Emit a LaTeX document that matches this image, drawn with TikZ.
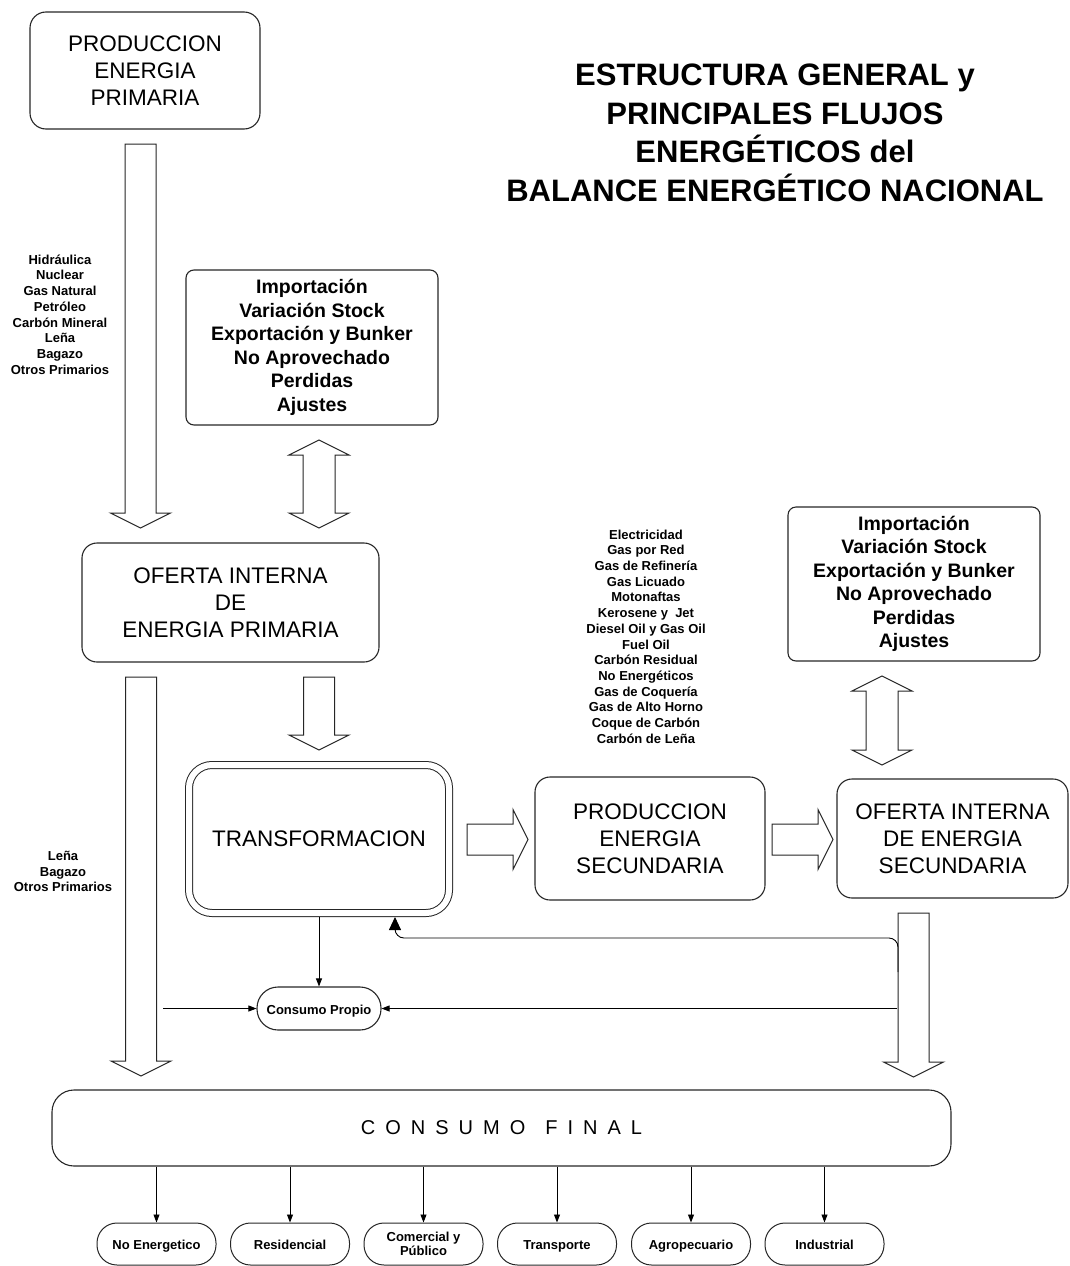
\documentclass[tikz,border=0pt]{standalone}
\usepackage{fontspec}
\setmainfont{Liberation Sans}
\newfontfamily\spacedfont[LetterSpace=50]{Liberation Sans}
\usetikzlibrary{arrows.meta,calc}
\begin{document}
\begin{tikzpicture}[x=1pt,y=-1pt,
  box/.style={draw=black!85, line width=1.1pt, align=center, inner sep=0pt},
  bigtxt/.style={font=\fontsize{22.5}{27}\selectfont},
  imptxt/.style={font=\bfseries\fontsize{19.5}{23.5}\selectfont},
  listtxt/.style={align=center, inner sep=0pt, font=\bfseries\fontsize{13}{15.7}\selectfont},
  pillbase/.style={draw=black!85, line width=1pt, rounded corners=20pt, minimum width=119pt, minimum height=42pt, inner sep=0pt, align=center, font=\bfseries\fontsize{13}{14.5}\selectfont},
  pill/.style={pillbase, text height=11pt, text depth=0pt},
  blk/.style={draw=black!85, line width=1pt, fill=white},
  fl/.style={draw=black, line width=0.9pt, -{Triangle[length=8pt,width=6pt]}},
]
\useasboundingbox (0,0) rectangle (1070,1266);
\newcommand{\blkdown}[3]{\draw[blk] (#1-15.5,#2) -- (#1+15.5,#2) -- (#1+15.5,#3-15) -- (#1+30,#3-15) -- (#1,#3) -- (#1-30,#3-15) -- (#1-15.5,#3-15) -- cycle;}
\newcommand{\blkboth}[3]{\draw[blk] (#1,#2) -- (#1+30,#2+15) -- (#1+16,#2+15) -- (#1+16,#3-15) -- (#1+30,#3-15) -- (#1,#3) -- (#1-30,#3-15) -- (#1-16,#3-15) -- (#1-16,#2+15) -- (#1-30,#2+15) -- cycle;}
\newcommand{\blkright}[3]{\draw[blk] (#2,#1-15.5) -- (#3-15,#1-15.5) -- (#3-15,#1-30) -- (#3,#1) -- (#3-15,#1+30) -- (#3-15,#1+15.5) -- (#2,#1+15.5) -- cycle;}

% title
\node[align=center, inner sep=0pt, font=\bfseries\fontsize{31}{38.5}\selectfont] (title) at (775,133)
  {ESTRUCTURA GENERAL y\\PRINCIPALES FLUJOS\\ENERGÉTICOS del\\BALANCE ENERGÉTICO NACIONAL};

% main boxes
\node[box, bigtxt, rounded corners=16pt, minimum width=230pt, minimum height=117pt] (pep) at (145,70.5)
  {PRODUCCION\\ENERGIA\\PRIMARIA};
\node[box, imptxt, rounded corners=8pt, minimum width=252pt, minimum height=155pt] (imp1) at (312,347.5)
  {Importación\\Variación Stock\\Exportación y Bunker\\No Aprovechado\\Perdidas\\Ajustes};
\node[box, imptxt, rounded corners=8pt, minimum width=252pt, minimum height=154pt] (imp2) at (914,584)
  {Importación\\Variación Stock\\Exportación y Bunker\\No Aprovechado\\Perdidas\\Ajustes};
\node[box, bigtxt, rounded corners=15pt, minimum width=297pt, minimum height=119pt] (oip) at (230.5,602.5)
  {OFERTA INTERNA\\DE\\ENERGIA PRIMARIA};
\node[draw=black!85, line width=1pt, double, double distance=6pt, rounded corners=23pt,
  minimum width=260pt, minimum height=148pt, outer sep=4pt, inner sep=0pt, bigtxt] (trans) at (319,839)
  {TRANSFORMACION};
\node[box, bigtxt, rounded corners=15pt, minimum width=230pt, minimum height=123pt] (pes) at (650,838.5)
  {PRODUCCION\\ENERGIA\\SECUNDARIA};
\node[box, bigtxt, rounded corners=15pt, minimum width=231pt, minimum height=119pt] (ois) at (952.5,838.5)
  {OFERTA INTERNA\\DE ENERGIA\\SECUNDARIA};
\node[draw=black!85, line width=1.1pt, rounded corners=21pt, minimum width=124pt, minimum height=43pt,
  inner sep=0pt, text height=11pt, text depth=0pt, font=\bfseries\fontsize{13}{15}\selectfont] (cp) at (319,1008.5) {Consumo Propio};
\node[box, rounded corners=22pt, minimum width=899pt, minimum height=76pt,
  font=\spacedfont\fontsize{20}{24}\selectfont] (cf) at (501.5,1128) {CONSUMO\hspace{20pt}FINAL};

% lists
\node[listtxt] (l1) at (60,314.5) {Hidráulica\\Nuclear\\Gas Natural\\Petróleo\\Carbón Mineral\\Leña\\Bagazo\\Otros Primarios};
\node[listtxt] (l2) at (63,871.5) {Leña\\Bagazo\\Otros Primarios};
\node[listtxt] (l3) at (646,636.5) {Electricidad\\Gas por Red\\Gas de Refinería\\Gas Licuado\\Motonaftas\\Kerosene y\ \ Jet\\Diesel Oil y Gas Oil\\Fuel Oil\\Carbón Residual\\No Energéticos\\Gas de Coquería\\Gas de Alto Horno\\Coque de Carbón\\Carbón de Leña};

% block arrows
\blkdown{140.5}{144}{528}
\blkboth{319}{440}{528}
\blkdown{319}{677}{750}
\blkdown{141}{677}{1076}
\blkboth{882}{676}{765}
\blkright{839.5}{467}{528}
\blkright{839.5}{772}{833}
\blkdown{913.5}{913}{1077}

% consumo propio connectors
\coordinate (cpl) at (163,1008.5);
\coordinate (cpr) at (897,1008.5);
\draw[fl] (trans.south) -- (cp.north);
\draw[fl] (cpl) -- (cp.west);
\draw[fl] (cpr) -- (cp.east);

% feedback
\coordinate (fbs) at (898,972);
\coordinate (fbk) at (395,938);
\draw[draw=black, line width=0.9pt, rounded corners=9pt, -{Triangle[length=13pt,width=12pt]}]
  (fbs) -- (fbs |- fbk) -- (fbk) -- (fbk |- trans.south);

% final consumption sectors
\node[pill] (s1) at (156.5,1244) {No Energetico};
\node[pill] (s2) at (290,1244) {Residencial};
\node[pillbase] (s3) at (423.5,1244) {Comercial y\\Público};
\node[pill] (s4) at (557,1244) {Transporte};
\node[pill] (s5) at (691,1244) {Agropecuario};
\node[pill] (s6) at (824.5,1244) {Industrial};
\foreach \s in {s1,s2,s3,s4,s5,s6}
  \draw[fl] (cf.south -| \s.north) -- (\s.north);
\end{tikzpicture}
\end{document}
